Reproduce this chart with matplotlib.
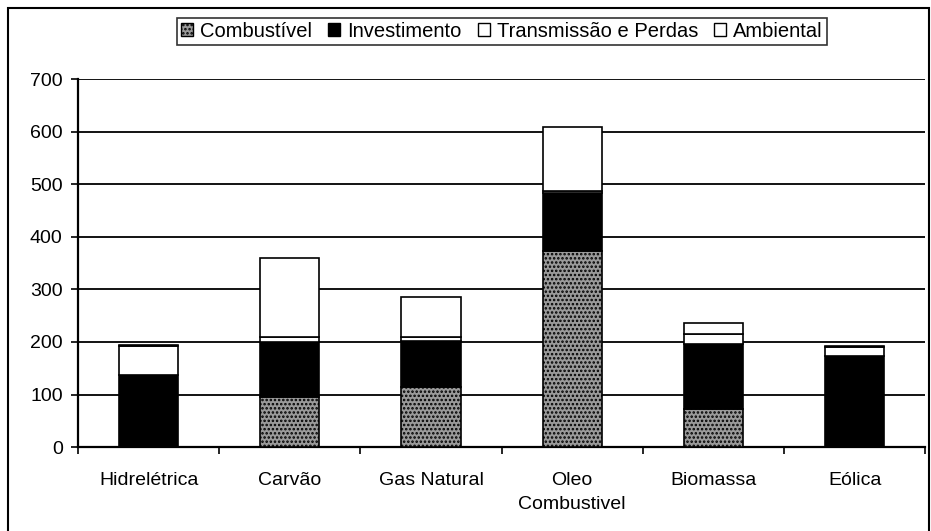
import matplotlib.pyplot as plt
import matplotlib.patches as mpatches
import numpy as np

plt.rcParams['font.family'] = ['Liberation Sans', 'DejaVu Sans']
plt.rcParams['hatch.linewidth'] = 1.2

categorias = ["Hidrelétrica", "Carvão", "Gas Natural", "Oleo\nCombustivel", "Biomassa", "Eólica"]
combustivel = [0, 95, 115, 373, 72, 0]
investimento = [138, 105, 87, 111, 124, 173]
transmissao = [55, 10, 8, 4, 19, 17]
ambiental = [2, 150, 75, 120, 21, 2]
series_nomes = ["Combustível", "Investimento", "Transmissão e Perdas", "Ambiental"]
yticks = [0, 100, 200, 300, 400, 500, 600, 700]

fig = plt.figure(figsize=(9.31, 5.31), dpi=100)
ax = fig.add_axes([0.0838, 0.158, 0.91, 0.693])

x = np.arange(len(categorias))
w = 0.42
base = np.zeros(len(categorias))

# combustivel: cinza pontilhado
ax.bar(x, combustivel, w, bottom=base, facecolor='#9a9a9a', hatch='....',
       edgecolor='black', linewidth=1.2, zorder=3)
base += combustivel
ax.bar(x, investimento, w, bottom=base, facecolor='black',
       edgecolor='black', linewidth=1.2, zorder=3)
base += investimento
ax.bar(x, transmissao, w, bottom=base, facecolor='white',
       edgecolor='black', linewidth=1.2, zorder=3)
base += transmissao
ax.bar(x, ambiental, w, bottom=base, facecolor='white',
       edgecolor='black', linewidth=1.2, zorder=3)

ax.set_xlim(-0.5, len(categorias) - 0.5)
ax.set_ylim(0, 700)
ax.set_yticks(yticks)
ax.yaxis.grid(True, color='black', linewidth=1.3, zorder=0)
ax.set_axisbelow(True)

ax.set_xticks(x)
ax.set_xticklabels(categorias, fontsize=14, linespacing=1.55)
ax.set_xticks(np.arange(len(categorias) + 1) - 0.5, minor=True)
ax.tick_params(axis='x', which='major', length=0, pad=18)
ax.tick_params(axis='x', which='minor', length=5, width=1.2, direction='out')
ax.tick_params(axis='y', labelsize=14, length=5, width=1.2, direction='out', pad=6)

for s in ['top', 'right']:
    ax.spines[s].set_visible(False)
for s in ['left', 'bottom']:
    ax.spines[s].set_linewidth(1.6)

handles = [
    mpatches.Patch(facecolor='#9a9a9a', hatch='....', edgecolor='black'),
    mpatches.Patch(facecolor='black', edgecolor='black'),
    mpatches.Patch(facecolor='white', edgecolor='black'),
    mpatches.Patch(facecolor='white', edgecolor='black'),
]
leg = fig.legend(handles, series_nomes, loc='center', bbox_to_anchor=(0.539, 0.941),
                 ncol=4, fontsize=14.5, frameon=True, fancybox=False,
                 handlelength=0.6, handleheight=0.6, handletextpad=0.35,
                 columnspacing=0.8, borderpad=0.2)
leg.get_frame().set_edgecolor('black')
leg.get_frame().set_linewidth(1.2)

# moldura do grafico
fig.patches.append(mpatches.Rectangle((0.009, -0.01), 0.989, 0.995, transform=fig.transFigure,
                                      fill=False, edgecolor='black', linewidth=1.5))

fig.savefig('out.png', dpi=100)
